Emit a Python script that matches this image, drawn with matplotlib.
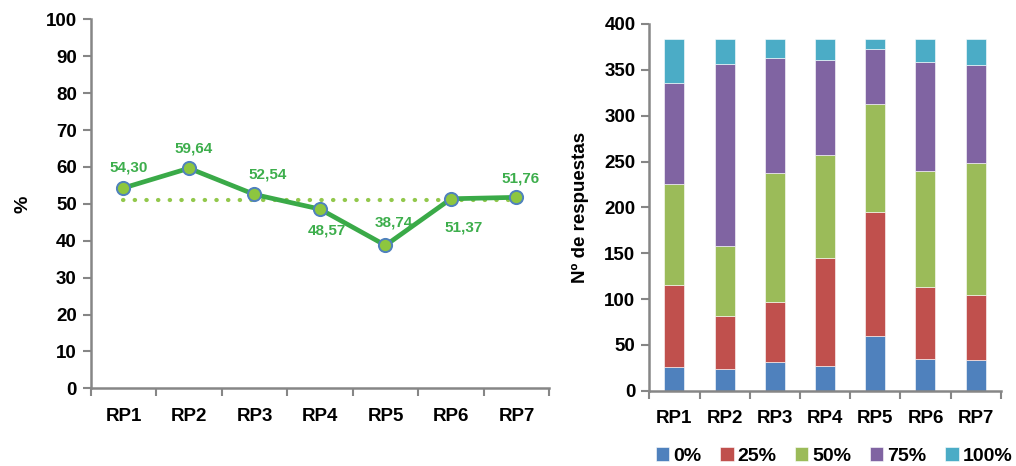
import matplotlib
matplotlib.use("Agg")
import matplotlib.pyplot as plt
import numpy as np

plt.rcParams['font.family'] = ['Liberation Sans', 'DejaVu Sans']
plt.rcParams['font.weight'] = 'bold'

# Data
categories = ["RP1", "RP2", "RP3", "RP4", "RP5", "RP6", "RP7"]
pct_values = [54.30, 59.64, 52.54, 48.57, 38.74, 51.37, 51.76]
pct_labels = ["54,30", "59,64", "52,54", "48,57", "38,74", "51,37", "51,76"]

levels = ["0%", "25%", "50%", "75%", "100%"]
counts_0 = [26, 24, 31, 27, 60, 35, 34]
counts_25 = [89, 58, 66, 118, 135, 78, 70]
counts_50 = [110, 76, 141, 112, 118, 127, 144]
counts_75 = [111, 198, 125, 104, 60, 119, 107]
counts_100 = [48, 28, 21, 23, 11, 25, 29]

level_colors = ["#4F81BD", "#C0504D", "#9BBB59", "#8064A2", "#4BACC6"]
axis_gray = "#868686"
line_green = "#3AAA48"
label_green = "#3DAE4C"
dot_green = "#92C84B"

fig = plt.figure(figsize=(10.16, 4.66), dpi=100)

# ---- Left: mean score per item ----
ax1 = fig.add_axes([0.0893, 0.1667, 0.4513, 0.7918])
x = np.arange(len(categories))
mean_pct = np.mean(pct_values)
ax1.plot([x[0], x[-1]], [mean_pct, mean_pct], color=dot_green, lw=3.0,
         dashes=(0.1, 2.7), dash_capstyle='round', zorder=2)
ax1.plot(x, pct_values, color=line_green, lw=3.4, zorder=3,
         marker='o', markersize=9.5, markerfacecolor="#8DC63F",
         markeredgecolor="#4F81BD", markeredgewidth=1.4)

label_offsets = [(5, 20), (5, 20), (13, 20), (7, -21), (8, 23), (13, -29), (4, 19)]
for xi, v, lab, off in zip(x, pct_values, pct_labels, label_offsets):
    ax1.annotate(lab, (xi, v), xytext=off, textcoords='offset pixels',
                 ha='center', va='center', color=label_green,
                 fontsize=11, fontweight='bold')

ax1.set_xlim(-0.5, len(categories) - 0.5)
ax1.set_ylim(0, 100)
ax1.set_yticks(np.arange(0, 101, 10))
ax1.set_xticks(x)
ax1.set_xticklabels(categories)
ax1.set_xticks(np.arange(-0.5, len(categories), 1.0), minor=True)
ax1.tick_params(axis='x', which='major', length=0, pad=14, labelsize=13.5)
ax1.tick_params(axis='x', which='minor', length=6, width=1.5, color=axis_gray)
ax1.tick_params(axis='y', length=6, width=1.5, color=axis_gray, pad=4,
                labelsize=13.5)
ax1.set_ylabel("%", fontsize=14, fontweight='bold', labelpad=10)

# ---- Right: stacked response counts ----
ax2 = fig.add_axes([0.6391, 0.1616, 0.3459, 0.7869])
series = [counts_0, counts_25, counts_50, counts_75, counts_100]
bottom = np.zeros(len(categories))
handles = []
for vals, col, lab in zip(series, level_colors, levels):
    b = ax2.bar(x, vals, width=0.4, bottom=bottom, color=col,
                edgecolor='#FFFFFF', linewidth=0.4, label=lab, zorder=2)
    handles.append(b)
    bottom += np.array(vals)

ax2.set_xlim(-0.5, len(categories) - 0.5)
ax2.set_ylim(0, 400)
ax2.set_yticks(np.arange(0, 401, 50))
ax2.set_xticks(x)
ax2.set_xticklabels(categories)
ax2.set_xticks(np.arange(-0.5, len(categories), 1.0), minor=True)
ax2.tick_params(axis='x', which='major', length=0, pad=14, labelsize=13.5)
ax2.tick_params(axis='x', which='minor', length=6, width=1.5, color=axis_gray)
ax2.tick_params(axis='y', length=6, width=1.5, color=axis_gray, pad=4,
                labelsize=13.5)
ax2.set_ylabel("Nº de respuestas", fontsize=13.5, fontweight='bold', labelpad=11)

for ax in (ax1, ax2):
    for side in ('top', 'right'):
        ax.spines[side].set_visible(False)
    for side in ('left', 'bottom'):
        ax.spines[side].set_color(axis_gray)
        ax.spines[side].set_linewidth(1.8)
    for t in ax.get_xticklabels() + ax.get_yticklabels():
        t.set_fontweight('bold')

fig.legend(handles=handles, labels=levels, loc='center',
           bbox_to_anchor=(834 / 1016, 1 - 456 / 466), ncol=5, frameon=False,
           fontsize=14, handlelength=0.7, handleheight=0.7,
           handletextpad=0.2, columnspacing=0.95, borderaxespad=0)

fig.savefig("out.png", dpi=100)
